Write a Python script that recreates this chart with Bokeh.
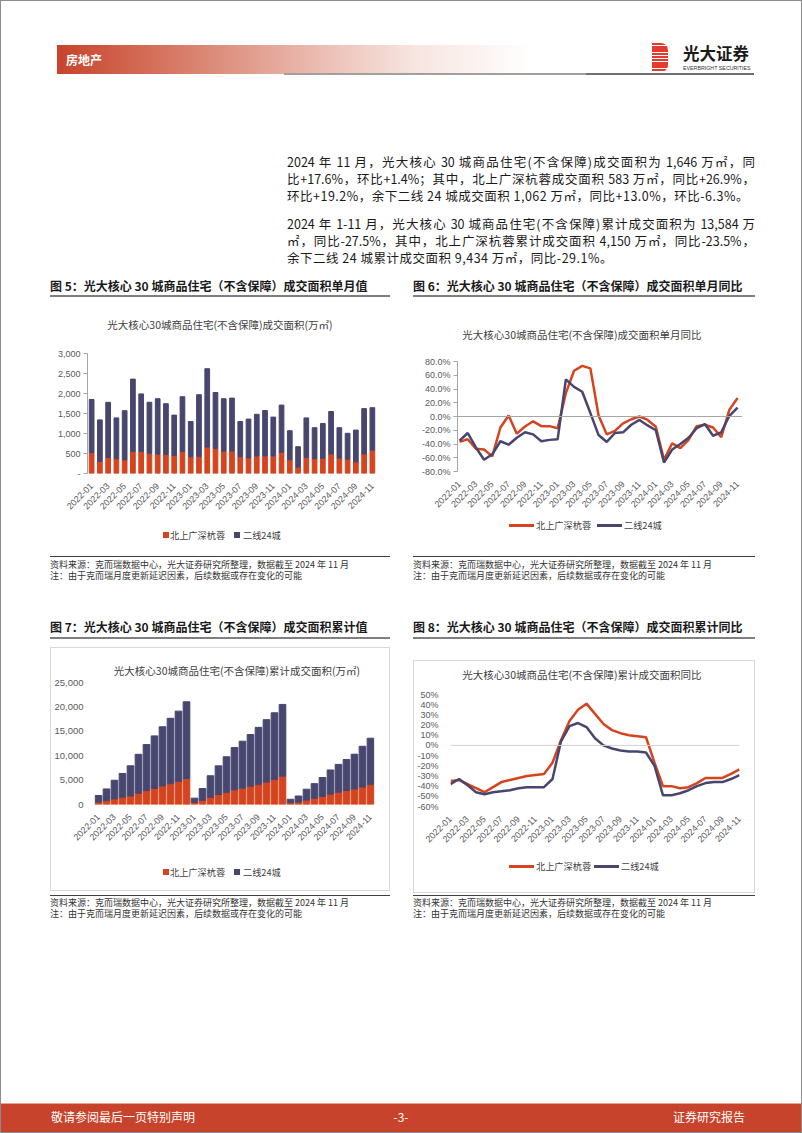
import math
from bokeh.plotting import figure
from bokeh.models import (Div, Spacer, Range1d, FixedTicker, NumeralTickFormatter,
                          PrintfTickFormatter, Span, ColumnDataSource)
from bokeh.layouts import column, row
from bokeh.embed import file_html
from bokeh.resources import INLINE

# ---------------- data ----------------
months = ["2022-01", "2022-02", "2022-03", "2022-04", "2022-05", "2022-06", "2022-07",
          "2022-08", "2022-09", "2022-10", "2022-11", "2022-12",
          "2023-01", "2023-02", "2023-03", "2023-04", "2023-05", "2023-06", "2023-07",
          "2023-08", "2023-09", "2023-10", "2023-11", "2023-12",
          "2024-01", "2024-02", "2024-03", "2024-04", "2024-05", "2024-06", "2024-07",
          "2024-08", "2024-09", "2024-10", "2024-11"]
series_names = ["北上广深杭蓉", "二线24城"]

# Fig 5: monthly transaction area (万㎡)
tier1_month = [520, 300, 400, 370, 340, 550, 550, 510, 485, 475, 450, 550,
               420, 430, 660, 630, 560, 560, 420, 390, 440, 440, 440, 530,
               345, 160, 400, 370, 380, 490, 385, 360, 290, 489, 583]
tier2_month = [1330, 1040, 1380, 1020, 1230, 1810, 1440, 1270, 1385, 1270, 1010, 1370,
               880, 1540, 1960, 1395, 1310, 1325, 880, 970, 1040, 1135, 970, 1180,
               725, 510, 990, 775, 870, 1060, 760, 645, 795, 1133, 1062]

# Fig 6: monthly YoY (%)
tier1_yoy = [-37, -33, -47, -48, -58, -16, 1.5, -25, -14.5, -7, -14, -14,
             -17, 34, 66.5, 73.7, 70, 1.5, -26, -21, -10, -4, 0, -5,
             -15, -63, -39, -46, -34, -14, -12, -16, -30, 10, 26.9]
tier2_yoy = [-35, -24, -45, -63, -55, -36, -41, -31, -23, -26, -36, -34,
             -33, 54, 43, 36, 5, -27, -37, -24, -23, -12, -5, -13,
             -20, -67, -48, -40, -31, -17, -11, -28, -23, 1, 13]

# Fig 7: cumulative transaction area (万㎡)
tier1_cum = [500, 800, 1150, 1500, 1750, 2300, 2850, 3300, 3800, 4250, 4750, 5350,
             420, 850, 1450, 2050, 2500, 3000, 3350, 3750, 4150, 4600, 5150, 5800,
             340, 500, 900, 1270, 1650, 2140, 2520, 2880, 3170, 3567, 4150]
tier2_cum = [1350, 2390, 3820, 4860, 6180, 7990, 9430, 10760, 12130, 13420, 14380, 15700,
             880, 2420, 4440, 5865, 7285, 8670, 9620, 10580, 11660, 12785, 13645, 14705,
             730, 1240, 2230, 3005, 3875, 4935, 5700, 6345, 7140, 8365, 9434]

# Fig 8: cumulative YoY (%)
tier1_cum_yoy = [-35, -34, -38, -42, -46, -41, -36, -34, -32, -30, -29, -28,
                 -17, 5, 24, 35, 41, 31, 21, 15, 12, 10, 9, 8,
                 -17, -40, -40, -42, -41, -37, -32, -32, -32, -28, -23.5]
tier2_cum_yoy = [-38, -33, -39, -46, -48, -46, -45, -44, -42, -41, -41, -41,
                 -33, 4, 19, 22, 18, 7, 0, -3, -5, -6, -6, -7,
                 -20, -49, -49, -47, -44, -40, -37, -36, -36, -33, -29.1]

yticks5 = [0, 500, 1000, 1500, 2000, 2500, 3000]
yticks6 = [-80, -60, -40, -20, 0, 20, 40, 60, 80]
yticks7 = [0, 5000, 10000, 15000, 20000, 25000]
yticks8 = [-60, -50, -40, -30, -20, -10, 0, 10, 20, 30, 40, 50]

chart_titles = ["光大核心30城商品住宅(不含保障)成交面积(万㎡)",
                "光大核心30城商品住宅(不含保障)成交面积单月同比",
                "光大核心30城商品住宅(不含保障)累计成交面积(万㎡)",
                "光大核心30城商品住宅(不含保障)累计成交面积同比"]

# ---------------- style ----------------
RED = "#D5441F"
NAVY = "#47466F"
BORDER = "#D9D9D9"
CJK = "Noto Sans CJK SC"
NUM = "Liberation Sans"
LBL = "#595959"
FONT = "font-family:'Noto Sans CJK SC',sans-serif;"

idx = list(range(len(months)))
src = ColumnDataSource(dict(x=idx, months=months,
                            t1m=tier1_month, t2m=tier2_month,
                            t1y=tier1_yoy, t2y=tier2_yoy,
                            t1c=tier1_cum, t2c=tier2_cum,
                            t1cy=tier1_cum_yoy, t2cy=tier2_cum_yoy))


def make_fig(w, h, l, r, t, b, xr, yr):
    p = figure(width=w, height=h, x_range=Range1d(*xr), y_range=Range1d(*yr),
               output_backend="svg", toolbar_location=None,
               min_border_left=l, min_border_right=r, min_border_top=t, min_border_bottom=b)
    p.xgrid.visible = False
    p.ygrid.visible = False
    p.outline_line_color = None
    p.background_fill_color = "white"
    p.border_fill_color = "white"
    xa = p.xaxis[0]
    xa.ticker = FixedTicker(ticks=idx[::2])
    xa.major_label_overrides = {i: months[i] for i in idx[::2]}
    xa.major_label_orientation = math.pi / 4
    xa.axis_line_color = None
    xa.major_tick_line_color = None
    xa.minor_tick_line_color = None
    xa.major_label_text_font = NUM
    xa.major_label_text_font_size = "9px"
    xa.major_label_text_color = LBL
    xa.major_label_standoff = 5
    ya = p.yaxis[0]
    ya.minor_tick_line_color = None
    ya.major_label_text_font = NUM
    ya.major_label_text_font_size = "9px"
    ya.major_label_text_color = LBL
    ya.major_label_standoff = 3
    return p


def abs_div(left, top, style, text=""):
    return (f'<div style="position:absolute;left:{left}px;top:{top}px;{style}">'
            f'{text}</div>')


def box_lines(w, h, top=False, bottom=False):
    out = [abs_div(0, 0, f"width:1px;height:{h}px;background:{BORDER};"),
           abs_div(w - 1, 0, f"width:1px;height:{h}px;background:{BORDER};")]
    if top:
        out.append(abs_div(0, 0, f"width:{w}px;height:1px;background:{BORDER};"))
    if bottom:
        out.append(abs_div(0, h - 1, f"width:{w}px;height:1px;background:{BORDER};"))
    return "".join(out)


def title_div(w, h, text, cx, cy, framed=False):
    html = [f'<div style="position:relative;width:{w}px;height:{h}px;{FONT}">']
    if framed:
        html.append(box_lines(w, h, top=True))
    html.append(abs_div(cx - 160, cy - 8, "width:320px;text-align:center;font-size:10.5px;"
                        "line-height:16px;color:#404040;white-space:nowrap;", text))
    html.append("</div>")
    return Div(text="".join(html), width=w, height=h, margin=0)


def legend_div(w, h, cy, kind, xs, framed=False):
    # xs: (glyph1_x, text1_x, glyph2_x, text2_x)
    html = [f'<div style="position:relative;width:{w}px;height:{h}px;{FONT}">']
    if framed:
        html.append(box_lines(w, h, bottom=True))
    for gx, tx, color, name in ((xs[0], xs[1], RED, series_names[0]),
                                (xs[2], xs[3], NAVY, series_names[1])):
        if kind == "square":
            html.append(abs_div(gx, cy - 3, f"width:6px;height:6px;background:{color};"))
        else:
            html.append(abs_div(gx, cy - 1.5, f"width:25px;height:3px;background:{color};"))
        html.append(abs_div(tx, cy - 7, "font-size:9.2px;line-height:14px;color:#404040;"
                            "white-space:nowrap;", name))
    html.append("</div>")
    return Div(text="".join(html), width=w, height=h, margin=0)


def vline(h):
    return Div(text=f'<div style="width:1px;height:{h}px;background:{BORDER};"></div>',
               width=1, height=h, margin=0)


# ---- Fig 5 ----  (column x 50-390, y 300-552)
p5 = make_fig(340, 175, 37, 14, 13, 40, (-0.5, 34.5), (0, 3000))
p5.vbar_stack(["t1m", "t2m"], x="x", width=0.57, color=[RED, NAVY], source=src)
y5 = p5.yaxis[0]
y5.ticker = FixedTicker(ticks=yticks5)
y5.formatter = NumeralTickFormatter(format="0,0")
y5.major_label_overrides = {0: "-"}
y5.axis_line_color = "#A6A6A6"
y5.major_tick_line_color = "#A6A6A6"
y5.major_tick_in = 0
y5.major_tick_out = 4
col5 = column(title_div(340, 40, chart_titles[0], 170, 25),
              p5,
              legend_div(340, 37, 20, "square", (113, 120, 184, 193)))

# ---- Fig 6 ----  (column x 413-758, y 300-552)
p6 = make_fig(345, 168, 44, 16, 16, 40, (-0.25, 34.6), (-80, 80))
p6.add_layout(Span(location=0, dimension="width", line_color="#A6A6A6", line_width=1))
p6.line("x", "t1y", source=src, line_color=RED, line_width=2.5)
p6.line("x", "t2y", source=src, line_color=NAVY, line_width=2.5)
y6 = p6.yaxis[0]
y6.ticker = FixedTicker(ticks=yticks6)
y6.formatter = PrintfTickFormatter(format="%.1f%%")
y6.axis_line_color = "#A6A6A6"
y6.major_tick_line_color = "#A6A6A6"
y6.major_tick_in = 0
y6.major_tick_out = 4
col6 = column(title_div(345, 45, chart_titles[1], 169, 35),
              p6,
              legend_div(345, 39, 12, "line", (96, 123, 184, 211)))

# ---- Fig 7 ----  (column x 50-390, y 647-891, framed)
p7 = make_fig(338, 169, 42, 15, 5, 35, (-0.5, 34.5), (0, 25000))
p7.vbar_stack(["t1c", "t2c"], x="x", width=0.83, color=[RED, NAVY], source=src)
y7 = p7.yaxis[0]
y7.ticker = FixedTicker(ticks=yticks7)
y7.formatter = NumeralTickFormatter(format="0,0")
y7.axis_line_color = None
y7.major_tick_line_color = None
y7.major_label_standoff = 5
y7.major_label_text_font_size = "9.5px"
col7 = column(title_div(340, 30, chart_titles[2], 187, 24, framed=True),
              row(vline(169), p7, vline(169)),
              legend_div(340, 45, 26, "square", (113, 120, 184, 193), framed=True))

# ---- Fig 8 ----  (column x 413-755, y 660-893, framed)
p8 = make_fig(340, 164, 34, 15, 10, 36, (0, 34), (-60, 50))
p8.add_layout(Span(location=0, dimension="width", line_color="#D0D0D0", line_width=1))
p8.line("x", "t1cy", source=src, line_color=RED, line_width=2.5)
p8.line("x", "t2cy", source=src, line_color=NAVY, line_width=2.5)
y8 = p8.yaxis[0]
y8.ticker = FixedTicker(ticks=yticks8)
y8.formatter = PrintfTickFormatter(format="%d%%")
y8.axis_line_color = None
y8.major_tick_line_color = None
y8.major_label_standoff = 6
col8 = column(Spacer(width=342, height=13),
              title_div(342, 24, chart_titles[3], 169, 15, framed=True),
              row(vline(164), p8, vline(164)),
              legend_div(342, 45, 18, "line", (96, 123, 181, 208), framed=True))

# ---------------- page text ----------------
para_lines = [
    ("2024 年 11 月，光大核心 30 城商品住宅(不含保障)成交面积为 1,646 万㎡，同", True),
    ("比+17.6%，环比+1.4%；其中，北上广深杭蓉成交面积 583 万㎡，同比+26.9%，", True),
    ("环比+19.2%，余下二线 24 城成交面积 1,062 万㎡，同比+13.0%，环比-6.3%。", False),
    ("2024 年 1-11 月，光大核心 30 城商品住宅(不含保障)累计成交面积为 13,584 万", True),
    ("㎡，同比-27.5%，其中，北上广深杭蓉累计成交面积 4,150 万㎡，同比-23.5%，", True),
    ("余下二线 24 城累计成交面积 9,434 万㎡，同比-29.1%。", False),
]
para_tops = [152.5, 170, 187, 214.5, 232, 249]

fig_titles = ["图 5：光大核心 30 城商品住宅（不含保障）成交面积单月值",
              "图 6：光大核心 30 城商品住宅（不含保障）成交面积单月同比",
              "图 7：光大核心 30 城商品住宅（不含保障）成交面积累计值",
              "图 8：光大核心 30 城商品住宅（不含保障）成交面积累计同比"]
source_text = "资料来源：克而瑞数据中心，光大证券研究所整理，数据截至 2024 年 11 月"
note_text = "注：由于克而瑞月度更新延迟因素，后续数据或存在变化的可能"

TSTYLE = "font-size:12px;font-weight:bold;color:#1a1a1a;white-space:nowrap;line-height:16px;"
SSTYLE = "font-size:9px;color:#333;white-space:nowrap;line-height:11px;"

partsA = [f'<div style="position:relative;width:802px;height:300px;{FONT}color:#222;">']
partsA.append('<div style="position:fixed;left:0;top:0;width:802px;height:1133px;box-sizing:border-box;'
              'border:1px solid #8c8c8c;pointer-events:none;z-index:10;"></div>')
partsA.append(abs_div(57, 45, "width:476px;height:29px;background:linear-gradient(to right,#C8432B 0%,"
                      "#D77A66 25%,#E8B2A6 50%,#F7E5E0 75%,rgba(255,255,255,0) 100%);"))
partsA.append(abs_div(66, 45, "height:29px;line-height:29px;font-size:12px;font-weight:bold;color:#fff;", "房地产"))
partsA.append(abs_div(284, 73, "width:302px;height:2px;background:#a0a0a0;"))
partsA.append(abs_div(586, 73, "width:168px;height:2px;background:#6e6e6e;"))
partsA.append(abs_div(652, 43, "width:16px;height:29px;border-radius:0 7px 7px 0;"
                      "background:repeating-linear-gradient(to bottom,#E53A2E 0px,#E53A2E 2.4px,#ffffff 2.4px,#ffffff 3.2px);"))
partsA.append(abs_div(683, 44, "font-size:16.5px;font-weight:bold;line-height:19px;color:#1a1a1a;white-space:nowrap;", "光大证券"))
partsA.append(abs_div(683, 64.5, "font-family:'Liberation Sans';font-size:5.3px;line-height:6px;color:#333;white-space:nowrap;",
                      "EVERBRIGHT SECURITIES"))
for (txt, just), top in zip(para_lines, para_tops):
    st = "width:468px;font-size:12.5px;line-height:17px;white-space:nowrap;color:#1a1a1a;"
    if just:
        st += "text-align:justify;text-align-last:justify;"
    else:
        st += "letter-spacing:0.5px;"
    partsA.append(abs_div(287, top, st, txt))
partsA.append(abs_div(50, 278, TSTYLE, fig_titles[0]))
partsA.append(abs_div(413, 278, TSTYLE, fig_titles[1]))
partsA.append(abs_div(50, 295, "width:340px;height:1.5px;background:#7f7f7f;"))
partsA.append(abs_div(413, 295, "width:342px;height:1.5px;background:#7f7f7f;"))
partsA.append("</div>")
divA = Div(text="".join(partsA), width=802, height=300, margin=0)

# Div B: 552 -> 647
partsB = [f'<div style="position:relative;width:802px;height:95px;{FONT}">']
for x0, w in ((50, 340), (413, 342)):
    partsB.append(abs_div(x0, 4, f"width:{w}px;height:1px;background:#404040;"))
    partsB.append(abs_div(x0, 7, SSTYLE, source_text))
    partsB.append(abs_div(x0, 18, SSTYLE, note_text))
partsB.append(abs_div(50, 67, TSTYLE, fig_titles[2]))
partsB.append(abs_div(413, 67, TSTYLE, fig_titles[3]))
partsB.append(abs_div(50, 85, "width:340px;height:1.5px;background:#7f7f7f;"))
partsB.append(abs_div(413, 85, "width:342px;height:1.5px;background:#7f7f7f;"))
partsB.append("</div>")
divB = Div(text="".join(partsB), width=802, height=95, margin=0)

# Div C: 893 -> 1133
partsC = [f'<div style="position:relative;width:802px;height:240px;{FONT}">']
for x0, w in ((50, 340), (413, 342)):
    partsC.append(abs_div(x0, 2, f"width:{w}px;height:1px;background:#404040;"))
    partsC.append(abs_div(x0, 3.5, SSTYLE, source_text))
    partsC.append(abs_div(x0, 14.5, SSTYLE, note_text))
partsC.append(abs_div(0, 210, "width:802px;height:30px;background:#C8432B;border-top:1px solid #e9a493;box-sizing:border-box;"))
FST = "font-size:12px;line-height:16px;color:#fff;white-space:nowrap;"
partsC.append(abs_div(51, 216, FST, "敬请参阅最后一页特别声明"))
partsC.append(abs_div(391, 216, FST + "width:20px;text-align:center;", "-3-"))
partsC.append(abs_div(673, 216, FST, "证券研究报告"))
partsC.append("</div>")
divC = Div(text="".join(partsC), width=802, height=240, margin=0)

row1 = row(Spacer(width=50, height=252), col5, Spacer(width=23, height=252), col6)
row2 = row(Spacer(width=50, height=246), col7, Spacer(width=23, height=246), col8)
page = column(divA, row1, divB, row2, divC)

open("out.html", "w").write(file_html(page, INLINE))
